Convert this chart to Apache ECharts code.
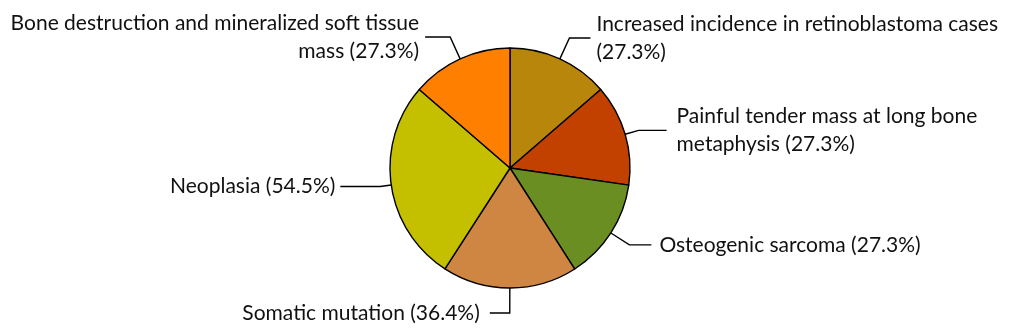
<!DOCTYPE html>
<html>
<head>
<meta charset="utf-8">
<script src="https://cdn.jsdelivr.net/npm/echarts@6/dist/echarts.min.js"></script>
<style>
  html, body { margin: 0; padding: 0; background: #fff; }
  #chart { width: 1013px; height: 335px; }
</style>
</head>
<body>
<div id="chart"></div>
<script>
// categories clockwise from 12 o'clock; '\n' marks where the label wraps
const categories = [
  'Increased incidence in retinoblastoma cases\n',
  'Painful tender mass at long bone\nmetaphysis',
  'Osteogenic sarcoma',
  'Somatic mutation',
  'Neoplasia',
  'Bone destruction and mineralized soft tissue\nmass'
]
const values = [27.3, 27.3, 27.3, 36.4, 54.5, 27.3]
const colors = ['#B8860B', '#C24100', '#6B8E23', '#CE8642', '#C4C000', '#FF8000']

// leader line lengths per slice (radial part, horizontal part, gap to text)
const lineLen = [23, 14, 22, 25, 11, 24]
const lineLen2 = [21, 28, 22, 20, 40, 25]
const textGap = [6, 10, 8, 10, 5, 6]

const chart = echarts.init(document.getElementById('chart'))

const data = categories.map((name, i) => ({
  name: name,
  value: values[i],
  itemStyle: { color: colors[i] },
  label: { distanceToLabelLine: textGap[i] },
  labelLine: { length: lineLen[i], length2: lineLen2[i] }
}))

chart.setOption({
  animation: false,
  series: [
    {
      type: 'pie',
      center: [510, 168],
      radius: 120,
      startAngle: 90,
      clockwise: true,
      avoidLabelOverlap: false,
      itemStyle: { borderColor: '#000', borderWidth: 1.4 },
      label: {
        show: true,
        fontFamily: 'Lato',
        fontSize: 21,
        lineHeight: 28,
        color: '#111',
        formatter: (p) => {
          const n = p.name
          return n.endsWith('\n') ? n + '(' + p.value + '%)' : n + ' (' + p.value + '%)'
        }
      },
      labelLine: {
        show: true,
        smooth: false,
        lineStyle: { color: '#000', width: 1.4 }
      },
      emphasis: { disabled: true },
      data: data
    }
  ]
})
</script>
</body>
</html>
